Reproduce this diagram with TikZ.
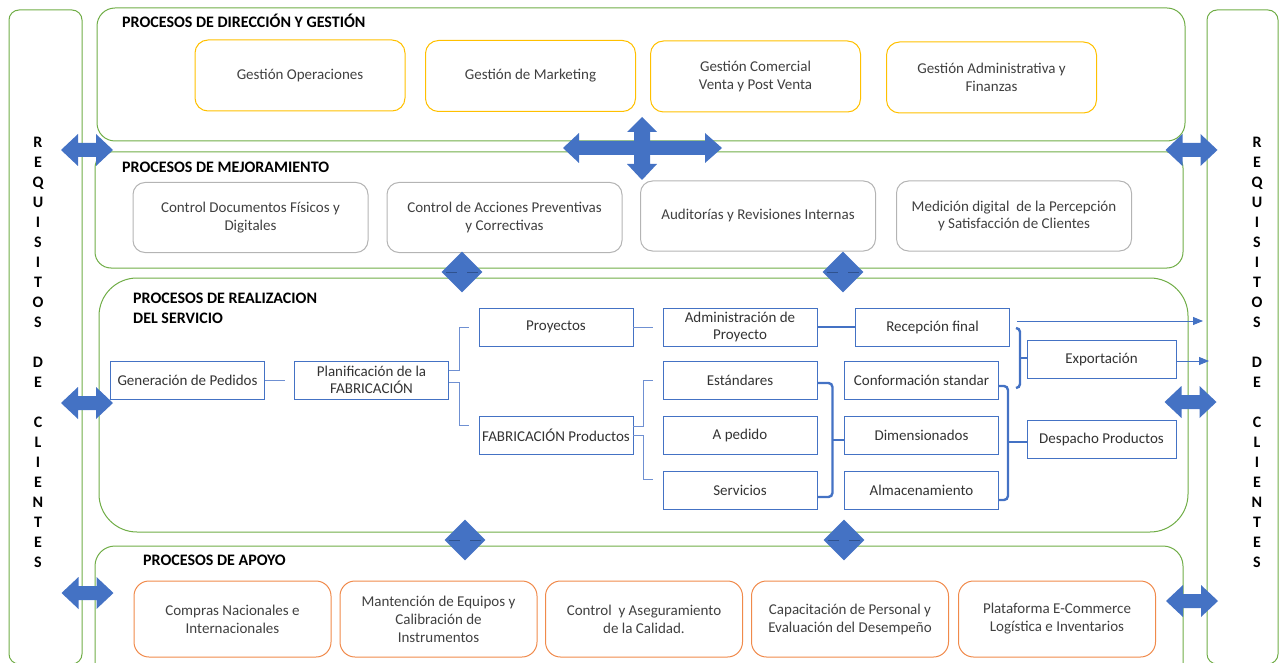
\documentclass[tikz,border=0pt]{standalone}
\usepackage{fontspec}
\setmainfont{Carlito}
\usetikzlibrary{arrows.meta,shapes.geometric}

\definecolor{pgreen}{HTML}{70AD47}
\definecolor{pgold}{HTML}{FFC000}
\definecolor{pgray}{HTML}{B4B4B4}
\definecolor{porange}{HTML}{F08A4B}
\definecolor{pblue}{HTML}{4472C4}
\definecolor{pdark}{HTML}{2F528F}
\definecolor{ptext}{HTML}{404040}
\definecolor{plink}{HTML}{6F90D2}

\tikzset{
  dblarrow/.pic={\fill[pblue] (-26,0) -- (-9,-16) -- (-9,-7) -- (9,-7) -- (9,-16) -- (26,0)
                 -- (9,16) -- (9,7) -- (-9,7) -- (-9,16) -- cycle;}
}

\begin{document}
\begin{tikzpicture}[x=1pt,y=-1pt,
  every node/.style={font=\fontsize{15}{17.5}\selectfont, text=ptext},
  panel/.style={draw=pgreen, line width=1pt},
  sidecol/.style={draw=pgreen, line width=1pt, rounded corners=10pt},
  title/.style={anchor=west, inner sep=0, align=left, text=black,
                font=\fontsize{16}{19.5}\selectfont\bfseries},
  letters/.style={align=center, inner sep=0, text=black,
                  font=\fontsize{16}{20}\selectfont\bfseries},
  goldbox/.style={draw=pgold, line width=1pt, rounded corners=13pt,
                  minimum width=210pt, minimum height=71pt, align=center},
  graybox/.style={draw=pgray, line width=1pt, rounded corners=12pt,
                  minimum width=235pt, minimum height=70pt, align=center},
  orangebox/.style={draw=porange, line width=1pt, rounded corners=15pt,
                  minimum width=197pt, minimum height=76pt, align=center, font=\fontsize{15}{18}\selectfont},
  rbox/.style={draw=pblue, line width=0.9pt, minimum width=154pt, minimum height=38pt,
               align=center, inner sep=1pt, text=black!80, font=\fontsize{15}{16.5}\selectfont},
  conn/.style={draw=plink, line width=0.9pt},
  bracketline/.style={draw=pblue, line width=2.4pt, rounded corners=4pt},
  outarrow/.style={draw=pblue, line width=0.9pt, -{Triangle[length=10pt,width=8pt]}},
  gem/.style={diamond, fill=pblue, inner sep=0, minimum width=41pt, minimum height=41pt},
  gemline/.style={draw=pdark, line width=1pt},
]
\useasboundingbox (0,0) rectangle (1282,663);
\clip (0,0) rectangle (1282,663);

% side columns: customer requirements
\draw[sidecol] (9,10) rectangle (82,664);
\draw[sidecol] (1207,10) rectangle (1278,664);
\node[letters] (reqL) at (38,352) {R\\E\\Q\\U\\I\\S\\I\\T\\O\\S\\\mbox{}\\D\\E\\\mbox{}\\C\\L\\I\\E\\N\\T\\E\\S};
\node[letters] (reqR) at (1257,352) {R\\E\\Q\\U\\I\\S\\I\\T\\O\\S\\\mbox{}\\D\\E\\\mbox{}\\C\\L\\I\\E\\N\\T\\E\\S};

% process panels
\draw[panel, rounded corners=18pt] (97,8) rectangle (1185,141);
\draw[panel, rounded corners=16pt] (95,152) rectangle (1183,268);
\draw[panel, rounded corners=38pt] (99,278) rectangle (1188,532);
\draw[panel, rounded corners=20pt] (95,546) rectangle (1183,700);

\node[title] (tdir) at (122,21) {PROCESOS DE DIRECCIÓN Y GESTIÓN};
\node[title] (tmej) at (122,167) {PROCESOS DE MEJORAMIENTO};
\node[title] (trea) at (133,308.5) {PROCESOS DE REALIZACION\\DEL SERVICIO};
\node[title] (tapo) at (143,560) {PROCESOS DE APOYO};

% management processes
\node[goldbox] (gop)  at (300,75.5)  {Gestión Operaciones};
\node[goldbox] (gmk)  at (530.5,76)  {Gestión de Marketing};
\node[goldbox] (gcom) at (755.5,76.5) {Gestión Comercial\\Venta y Post Venta};
\node[goldbox] (gadm) at (991.5,77.5) {Gestión Administrativa y\\Finanzas};

% improvement processes
\node[graybox] (cdoc) at (250.5,217.5) {Control Documentos Físicos y\\Digitales};
\node[graybox] (cacc) at (504.5,217.5) {Control de Acciones Preventivas\\y Correctivas};
\node[graybox] (aud)  at (758,216) {Auditorías y Revisiones Internas};
\node[graybox] (med)  at (1014,216) {Medición digital\ \ de la Percepción\\y Satisfacción de Clientes};

% support processes
\node[orangebox] (comp) at (232.5,619) {Compras Nacionales e\\Internacionales};
\node[orangebox] (mant) at (438.5,619) {Mantención de Equipos y\\Calibración de\\Instrumentos};
\node[orangebox] (ctrl) at (644,619) {Control\ \ y Aseguramiento\\de la Calidad.};
\node[orangebox] (cap)  at (850,619) {Capacitación de Personal y\\Evaluación del Desempeño};
\node[orangebox] (plat) at (1057,619) {Plataforma E-Commerce\\Logística e Inventarios};

% service realization flow
\node[rbox] (gen)  at (187.5,380) {Generación de Pedidos};
\node[rbox] (plan) at (371.5,380) {Planificación de la\\FABRICACIÓN};
\node[rbox] (proy) at (556,327) {Proyectos};
\node[rbox] (fab)  at (556,435) {FABRICACIÓN Productos};
\node[rbox] (adm)  at (740,327) {Administración de\\Proyecto};
\node[rbox] (est)  at (740,380.5) {Estándares};
\node[rbox] (aped) at (740,435) {A pedido};
\node[rbox] (serv) at (740,490) {Servicios};
\node[rbox] (rec)  at (932.5,327) {Recepción final};
\node[rbox] (conf) at (921.5,380.5) {Conformación standar};
\node[rbox] (dim)  at (921.5,435) {Dimensionados};
\node[rbox] (alm)  at (921.5,490) {Almacenamiento};
\node[rbox, minimum width=149pt] (exp)  at (1101.5,359.5) {Exportación};
\node[rbox, minimum width=149pt] (desp) at (1101.5,439.5) {Despacho Productos};

\draw[conn, shorten >=9pt] (gen) -- (plan);
\draw[conn] ([yshift=10pt]plan.east) -- ++(10,0) |- ([xshift=-10pt]proy.west);
\draw[conn] ([yshift=-2pt]plan.east) -- ++(10,0) |- ([xshift=-10pt,yshift=10pt]fab.west);
\draw[conn, shorten >=10pt] (proy) -- (adm);
\draw[conn] ([yshift=9pt]fab.east) -- ++(10,0) |- ([xshift=-10pt]est.west);
\draw[conn] (fab.east) -- ++(10,0) |- ([xshift=-10pt,yshift=11pt]serv.west);
\draw[draw=pblue, line width=2.4pt] (adm) -- (rec);

% braces gathering the flows
\coordinate (b1) at (832,440);
\coordinate (b2) at (1007,442);
\coordinate (b3) at (1020,358);
\draw[bracketline] ([yshift=-2.5pt]est.east) -- ++(15,0) -- ++(0,114) -- ++(-15,0);
\draw[bracketline] (b1) -- (b1 -| dim.west);
\draw[bracketline] ([yshift=-5.5pt]conf.east) -- ++(9,0) -- ++(0,114) -- ++(-9,0);
\draw[bracketline] (b2) -- (b2 -| desp.west);
\draw[bracketline] (1016,328) -- (1020,328) -- (1020,388) -- (1016,388);
\draw[bracketline] (b3) -- (b3 -| exp.west);

% outputs towards the customer
\coordinate (o1) at (1203,321);
\coordinate (o2) at (1209,361);
\draw[outarrow] ([xshift=7pt,yshift=6pt]rec.east) -- (o1);
\draw[outarrow] ([yshift=-1.5pt]exp.east) -- (o2);

% interaction arrows with the customer columns
\pic at (87,150) {dblarrow};
\pic at (87,403) {dblarrow};
\pic at (87.5,593) {dblarrow};
\pic at (1191.5,150) {dblarrow};
\pic at (1190.5,402) {dblarrow};
\pic at (1192,601) {dblarrow};

% four-way arrow between management and improvement
\fill[pblue] (642,117) -- (657,132) -- (650,132) -- (650,141) -- (705,141) -- (705,133)
  -- (722,148) -- (705,163) -- (705,155) -- (650,155) -- (650,164) -- (657,164)
  -- (642,180) -- (627,164) -- (634,164) -- (634,155) -- (579,155) -- (579,163)
  -- (563,148) -- (579,133) -- (579,141) -- (634,141) -- (634,132) -- (627,132) -- cycle;

% links between the process levels
\node[gem] (d1) at (462,272) {};
\node[gem] (d2) at (843,272) {};
\node[gem] (d3) at (465,540) {};
\node[gem] (d4) at (844,540) {};
\foreach \d in {d1,d2,d3,d4}{
  \draw[gemline] ([xshift=-16pt]\d.center) -- ([xshift=-5pt]\d.center);
  \draw[gemline] ([xshift=5pt]\d.center) -- ([xshift=16pt]\d.center);
}
\end{tikzpicture}
\end{document}
